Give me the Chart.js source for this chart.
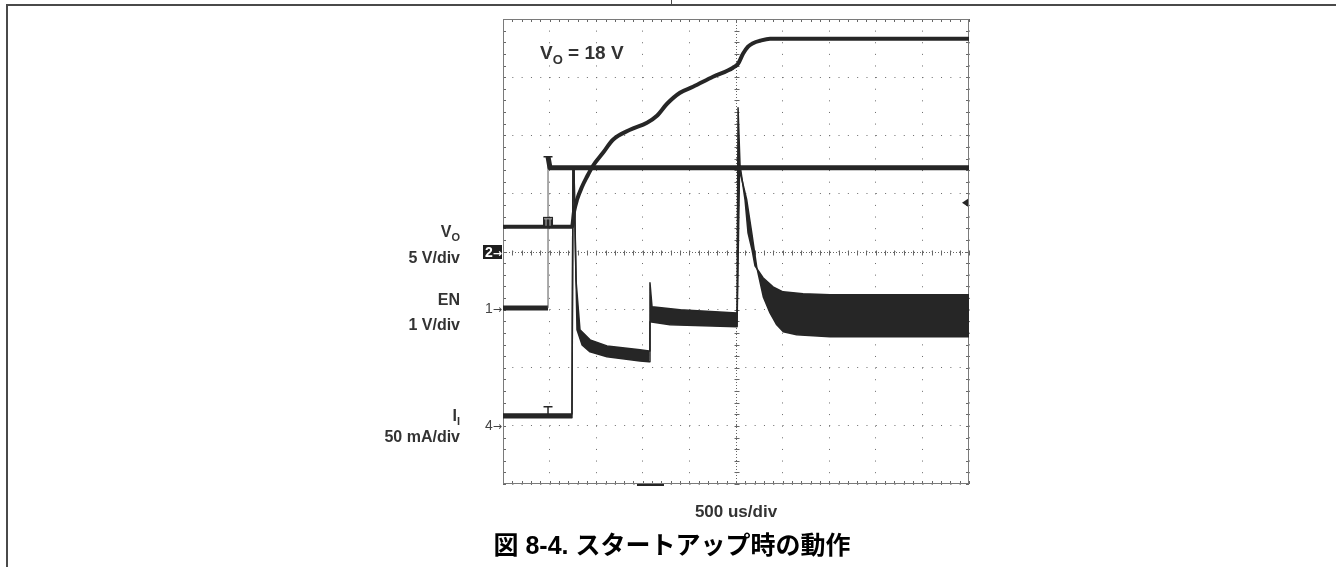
<!DOCTYPE html>
<html lang="ja">
<head>
<meta charset="utf-8">
<title>スタートアップ時の動作</title>
<script src="https://cdn.jsdelivr.net/npm/chart.js@4.4.1/dist/chart.umd.min.js"></script>
<style>
  html, body { margin: 0; padding: 0; background: #fff; }
  #page { position: relative; width: 1336px; height: 567px; overflow: hidden;
          font-family: "Liberation Sans", Arial, "Noto Sans CJK JP", sans-serif; color: #333; }
  #scope { position: absolute; left: 0; top: 0; }
  .rule { position: absolute; background: #4a4a4a; }
  .lbl { position: absolute; right: 876px; font-weight: bold; font-size: 16px; line-height: 16px;
         text-align: right; white-space: nowrap; }
  sub { font-size: 11px; vertical-align: -4px; line-height: 0; }
  .ch { position: absolute; left: 483px; width: 19px; height: 14px; font-size: 14px; line-height: 14px;
        color: #444; text-align: right; white-space: nowrap; }
  .ch span { font-family: "DejaVu Sans", sans-serif; font-size: 11px; }
  .ch.boxed { background: #1e1e1e; color: #fff; font-weight: bold; }
  #vo18 { position: absolute; left: 540px; top: 44px; font-weight: bold; font-size: 19px; line-height: 18px; }
  #vo18 sub { font-size: 13px; vertical-align: -5px; }
  #xunit { position: absolute; left: 636px; width: 200px; top: 503px; text-align: center;
           font-weight: bold; font-size: 17px; line-height: 17px; }
  #caption { position: absolute; left: 472px; width: 400px; top: 531px; text-align: center; color: #000;
             font-weight: bold; font-size: 25px; line-height: 28px;
             font-family: "Liberation Sans", Arial, "Noto Sans CJK JP", sans-serif; }
</style>
</head>
<body>
<div id="page">
  <canvas id="scope" width="1336" height="567"></canvas>
  <div class="rule" style="left:6px;top:4px;width:1330px;height:2px"></div>
  <div class="rule" style="left:6px;top:4px;width:2px;height:563px"></div>
  <div class="rule" style="left:671px;top:0;width:1px;height:5px"></div>

  <div id="vo18">V<sub>O</sub> = 18 V</div>

  <div class="lbl" style="top:224px">V<sub>O</sub></div>
  <div class="lbl" style="top:250px">5 V/div</div>
  <div class="lbl" style="top:292px">EN</div>
  <div class="lbl" style="top:317px">1 V/div</div>
  <div class="lbl" style="top:408px">I<sub>I</sub></div>
  <div class="lbl" style="top:429px">50 mA/div</div>

  <div class="ch boxed" style="top:245px">2<span>→</span></div>
  <div class="ch" style="top:301px">1<span>→</span></div>
  <div class="ch" style="top:418px">4<span>→</span></div>

  <div id="xunit">500 us/div</div>
  <div id="caption">図 8-4. スタートアップ時の動作</div>
</div>

<script>
// scope settings
const usPerDiv = 500;
const divsX = 10;
const divsY = 8;
const trigLevelDiv = 0.84;
const trigPosUs = 1577;
const cursorUs = 483;

// channels: volts (or mA) per division and ground marker position in divisions
const chVo = { perDiv: 5, ground: 0 };
const chEn = { perDiv: 1, ground: -1 };
const chIi = { perDiv: 50, ground: -3 };

// V_O (V)
const voTime = [0, 740, 762, 794, 848, 901, 966, 1073, 1180, 1363, 1545, 1652, 1760, 1899, 2039, 2253, 2468, 2522, 2575, 2629, 2683, 2758, 2865, 5000];
const voVolts = [2.13, 2.13, 3.42, 4.45, 5.57, 6.43, 7.38, 8.49, 9.61, 10.47, 11.08, 11.68, 12.71, 13.66, 14.17, 15.03, 15.81, 16.15, 17.01, 17.62, 17.92, 18.13, 18.3, 18.3];

// EN (V)
const enTime = [0, 483, 483, 504, 5000];
const enVolts = [0.03, 0.03, 2.63, 2.44, 2.44];

// I_I (mA), upper and lower edge of the noisy trace
const iiHiTime = [0, 740, 751, 762, 783, 826, 934, 1116, 1470, 1567, 1577, 1599, 1899, 2511, 2522, 2543, 2597, 2629, 2672, 2704, 2790, 2897, 3004, 3219, 3509, 5000];
const iiHi = [10.3, 10.3, 220.3, 220.3, 125.6, 82.6, 74.0, 68.8, 65.4, 64.5, 123.1, 102.4, 99.8, 97.2, 273.7, 224.6, 194.5, 166.1, 151.5, 137.7, 127.4, 119.6, 115.3, 113.6, 112.7, 112.7];
const iiLoTime = [0, 740, 751, 762, 794, 848, 934, 1116, 1470, 1567, 1577, 1792, 2511, 2518, 2538, 2615, 2669, 2722, 2793, 2865, 2937, 3008, 3151, 3509, 5000];
const iiLo = [6.9, 6.9, 220.3, 220.3, 82.6, 69.7, 63.7, 59.4, 55.9, 55.1, 89.5, 86.9, 85.2, 85.2, 220.3, 194.5, 166.1, 136.8, 111.0, 97.2, 86.9, 80.9, 78.3, 76.6, 76.6];

// cursor marks at the EN edge
const enCursorV = 2.63;
const iiCursorMa = 16.5;
const voCursorV = 2.98;

const traceColor = '#262626';

function toDiv(v, ch) {
  return v / ch.perDiv + ch.ground;
}
function points(ts, vals, ch) {
  return ts.map((t, i) => ({ x: t, y: toDiv(vals[i], ch) }));
}
// fast edges show up as thin grey lines on the scope
const thinEdges = {
  borderWidth: c => (c.p0.parsed.x === c.p1.parsed.x ? 1 : undefined),
  borderColor: c => (c.p0.parsed.x === c.p1.parsed.x ? '#555' : undefined)
};

const scopeDecor = {
  id: 'scopeDecor',
  beforeDatasetsDraw(chart) {
    const { ctx, chartArea: a, scales: { x, y } } = chart;
    const cx = Math.round(x.getPixelForValue(usPerDiv * divsX / 2)) + 0.5;
    const cy = Math.round(y.getPixelForValue(0)) + 0.5;
    ctx.save();
    ctx.strokeStyle = '#666';
    ctx.lineWidth = 1;
    ctx.setLineDash([1, 2]);
    ctx.beginPath();
    ctx.moveTo(cx, a.top); ctx.lineTo(cx, a.bottom);
    ctx.moveTo(a.left, cy); ctx.lineTo(a.right, cy);
    ctx.stroke();
    ctx.setLineDash([]);
    ctx.beginPath();
    for (let t = 0; t <= usPerDiv * divsX; t += usPerDiv / 5) {
      const px = Math.round(x.getPixelForValue(t)) + 0.5;
      ctx.moveTo(px, cy - 2); ctx.lineTo(px, cy + 3);
      ctx.moveTo(px, a.top); ctx.lineTo(px, a.top + 3);
      ctx.moveTo(px, a.bottom); ctx.lineTo(px, a.bottom - 3);
    }
    for (let k = 0; k <= divsY * 5; k++) {
      const py = Math.round(y.getPixelForValue(-divsY / 2 + k / 5)) + 0.5;
      ctx.moveTo(cx - 2, py); ctx.lineTo(cx + 3, py);
      ctx.moveTo(a.left, py); ctx.lineTo(a.left + 3, py);
      ctx.moveTo(a.right, py); ctx.lineTo(a.right - 3, py);
    }
    ctx.stroke();
    ctx.strokeStyle = '#7a7a7a';
    ctx.strokeRect(a.left + 0.5, a.top + 0.5, a.width - 1, a.height - 1);
    ctx.restore();
  },
  afterDatasetsDraw(chart) {
    const { ctx, chartArea: a, scales: { x, y } } = chart;
    ctx.save();
    ctx.fillStyle = traceColor;
    ctx.strokeStyle = traceColor;
    // trigger level arrow
    const ty = y.getPixelForValue(trigLevelDiv);
    ctx.beginPath();
    ctx.moveTo(a.right - 7, ty);
    ctx.lineTo(a.right - 1, ty - 4);
    ctx.lineTo(a.right - 1, ty + 4);
    ctx.closePath();
    ctx.fill();
    // trigger position
    const tx = x.getPixelForValue(trigPosUs);
    ctx.fillRect(tx - 13, a.bottom, 27, 2);
    // cursor marks
    const mx = x.getPixelForValue(cursorUs);
    ctx.lineWidth = 1.5;
    const enY = y.getPixelForValue(toDiv(enCursorV, chEn));
    const iiY = y.getPixelForValue(toDiv(iiCursorMa, chIi));
    const iiBase = y.getPixelForValue(toDiv(iiHi[0], chIi));
    ctx.beginPath();
    ctx.moveTo(mx - 4.5, enY); ctx.lineTo(mx + 4.5, enY);
    ctx.moveTo(mx - 4.5, iiY); ctx.lineTo(mx + 4.5, iiY);
    ctx.moveTo(mx, iiY); ctx.lineTo(mx, iiBase);
    ctx.stroke();
    const voTop = y.getPixelForValue(toDiv(voCursorV, chVo));
    const voBase = y.getPixelForValue(toDiv(voVolts[0], chVo));
    ctx.fillRect(mx - 5, voTop, 10, voBase - voTop);
    ctx.strokeStyle = '#bbb';
    ctx.lineWidth = 1;
    ctx.beginPath();
    ctx.moveTo(mx - 4, voTop + 2); ctx.lineTo(mx + 4, voTop + 2);
    ctx.moveTo(mx - 2, voTop + 2); ctx.lineTo(mx - 2, voBase - 1);
    ctx.moveTo(mx + 2, voTop + 2); ctx.lineTo(mx + 2, voBase - 1);
    ctx.stroke();
    ctx.restore();
  }
};

new Chart(document.getElementById('scope'), {
  type: 'line',
  data: {
    datasets: [
      {
        label: 'V_O',
        data: points(voTime, voVolts, chVo),
        borderColor: traceColor,
        borderWidth: 4,
        cubicInterpolationMode: 'monotone'
      },
      {
        label: 'EN',
        data: points(enTime, enVolts, chEn),
        borderColor: traceColor,
        borderWidth: 5,
        segment: thinEdges
      },
      {
        label: 'I_I',
        data: points(iiHiTime, iiHi, chIi),
        borderColor: traceColor,
        backgroundColor: traceColor,
        borderWidth: 1.5,
        fill: '+1'
      },
      {
        label: 'I_I low',
        data: points(iiLoTime, iiLo, chIi),
        borderColor: traceColor,
        borderWidth: 1.5,
        fill: false
      }
    ]
  },
  options: {
    responsive: false,
    animation: false,
    events: [],
    elements: { point: { radius: 0 }, line: { tension: 0, borderJoinStyle: 'round' } },
    layout: { padding: { left: 503, right: 367, top: 19, bottom: 83 } },
    plugins: { legend: { display: false }, tooltip: { enabled: false } },
    scales: {
      x: {
        type: 'linear',
        min: 0,
        max: usPerDiv * divsX,
        ticks: { display: false, stepSize: usPerDiv },
        grid: { color: '#6a6a6a', lineWidth: 1, drawTicks: false },
        border: { display: false, dash: [1, 10.62] }
      },
      y: {
        type: 'linear',
        min: -divsY / 2,
        max: divsY / 2,
        ticks: { display: false, stepSize: 1 },
        grid: { color: '#6a6a6a', lineWidth: 1, drawTicks: false },
        border: { display: false, dash: [1, 8.32] }
      }
    }
  },
  plugins: [scopeDecor]
});
</script>
</body>
</html>
